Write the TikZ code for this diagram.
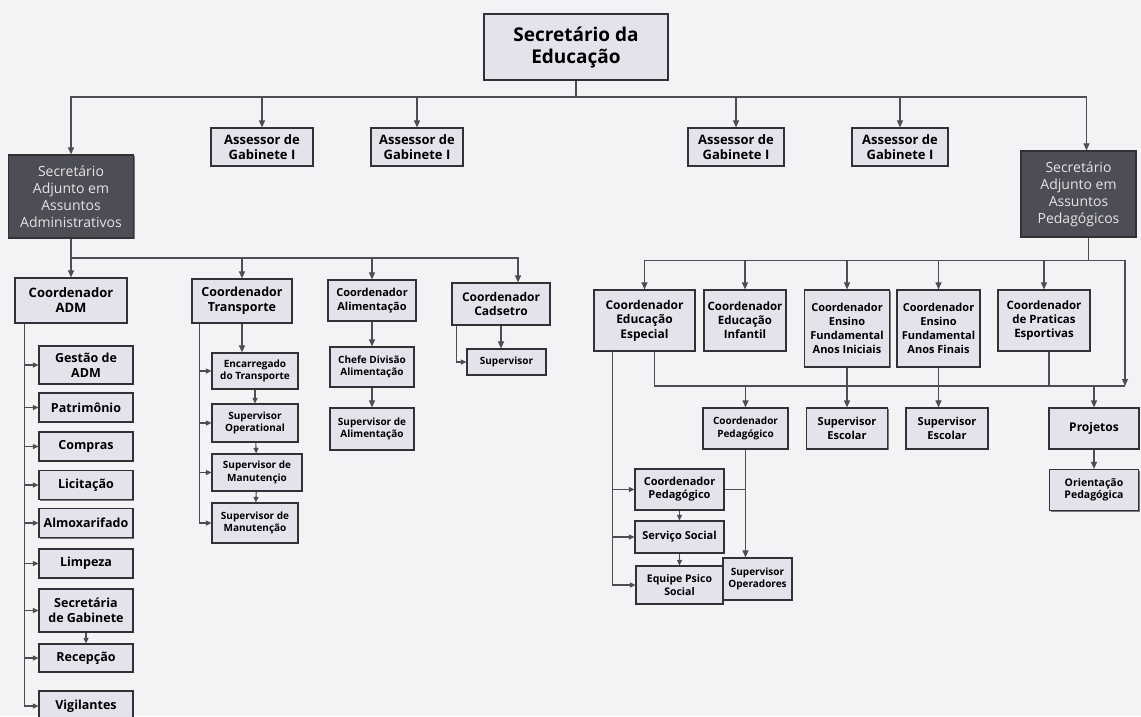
\documentclass[tikz,border=0pt]{standalone}
\usepackage{fontspec}
\setmainfont{Open Sans}
\usetikzlibrary{arrows.meta, shadows}

\definecolor{boxfill}{RGB}{228,227,236}
\definecolor{darkfill}{RGB}{76,77,85}
\definecolor{edgecol}{RGB}{50,50,54}
\definecolor{linecol}{RGB}{78,78,82}
\definecolor{paper}{RGB}{243,243,246}

\begin{document}
\begin{tikzpicture}[
    x=1pt, y=-1pt,
    box/.style={rectangle, draw=edgecol, line width=1.2pt, fill=boxfill, align=center, inner sep=1pt,
        font=\bfseries, drop shadow={shadow xshift=1.2pt, shadow yshift=-1.4pt, opacity=0.5, fill=black}},
    darkbox/.style={box, fill=darkfill, text=white!90!black},
    size/.style 2 args={minimum width=#1, minimum height=#2},
    arrow/.style={-{Triangle[length=7pt, width=6pt]}, draw=linecol, line width=1.1pt},
    sarrow/.style={-{Triangle[length=5.5pt, width=5pt]}, draw=linecol, line width=1.1pt},
    wire/.style={draw=linecol, line width=1.1pt}
]
\useasboundingbox (0,0) rectangle (1141,716);
\fill[paper] (0,0) rectangle (1141,716);
\clip (0,0) rectangle (1141,716);

% top level
\node[box, size={184}{66}, font=\fontsize{19}{22}\selectfont\bfseries] (sec) at (576,47) {Secretário da\\Educação};
\node[box, size={102}{38}, font=\fontsize{13}{15}\selectfont\bfseries] (as1) at (262,147) {Assessor de\\Gabinete I};
\node[box, size={92}{38}, font=\fontsize{13}{15}\selectfont\bfseries] (as2) at (417,147) {Assessor de\\Gabinete I};
\node[box, size={96}{38}, font=\fontsize{13}{15}\selectfont\bfseries] (as3) at (736,147) {Assessor de\\Gabinete I};
\node[box, size={96}{38}, font=\fontsize{13}{15}\selectfont\bfseries] (as4) at (900,147) {Assessor de\\Gabinete I};
\node[darkbox, size={125}{83}, font=\fontsize{14}{17}\selectfont] (sadm) at (71,196.5) {Secretário\\Adjunto em\\Assuntos\\Administrativos};
\node[darkbox, size={115}{86}, font=\fontsize{14}{17}\selectfont] (sped) at (1078.5,194) {Secretário\\Adjunto em\\Assuntos\\Pedagógicos};

\coordinate (hubtop) at (576,97);
\draw[wire] (sec.south) -- (hubtop);
\draw[arrow] (hubtop) -| (sadm.north);
\draw[arrow] (hubtop) -| ([xshift=8pt]sped.north);
\foreach \n in {as1,as2,as3,as4}
    \draw[arrow] (hubtop) -| (\n.north);

% administrative side
\node[box, size={112}{45}, font=\fontsize{13}{15}\selectfont\bfseries] (cadm) at (71,300.5) {Coordenador\\ADM};
\node[box, size={100}{44}, font=\fontsize{12.5}{15}\selectfont\bfseries] (ctra) at (242,301) {Coordenador\\Transporte};
\node[box, size={88}{41}, font=\fontsize{11}{13.5}\selectfont\bfseries] (cali) at (372,300.5) {Coordenador\\Alimentação};
\node[box, size={98}{42}, font=\fontsize{12}{14.5}\selectfont\bfseries] (ccad) at (501,304) {Coordenador\\Cadsetro};

\coordinate (hubadm) at (71,258);
\draw[wire] (sadm.south) -- (hubadm);
\draw[arrow] (hubadm) -- (cadm.north);
\draw[arrow] (hubadm) -| (ctra.north);
\draw[arrow] (hubadm) -| (cali.north);
\draw[arrow] (hubadm) -| ([xshift=17pt]ccad.north);

\begin{scope}[box/.append style={font=\fontsize{12.5}{14.5}\selectfont\bfseries}]
\node[box, size={94}{38}] (adm1) at (86,365) {Gestão de\\ADM};
\node[box, size={94}{29}] (adm2) at (86,407.5) {Patrimônio};
\node[box, size={94}{29}] (adm3) at (86,446.5) {Compras};
\node[box, size={94}{29}] (adm4) at (86,485) {Licitação};
\node[box, size={94}{29}] (adm5) at (86,523) {Almoxarifado};
\node[box, size={94}{29}] (adm6) at (86,563.5) {Limpeza};
\node[box, size={94}{43}] (adm7) at (86,610.5) {Secretária\\de Gabinete};
\node[box, size={94}{28}] (adm8) at (86,658) {Recepção};
\node[box, size={94}{30}] (adm9) at (86,706) {Vigilantes};
\end{scope}
\foreach \i in {1,...,9}
    \draw[sarrow] ([xshift=10pt]cadm.south west) |- (adm\i.west);
\draw[sarrow] (adm7) -- (adm8);

\begin{scope}[box/.append style={font=\fontsize{10}{12.5}\selectfont\bfseries}]
\node[box, size={86}{36}] (tra1) at (255,371) {Encarregado\\do Transporte};
\node[box, size={86}{38}] (tra2) at (255,423) {Supervisor\\Operational};
\node[box, size={90}{37}] (tra3) at (257,472.5) {Supervisor de\\Manutençio};
\node[box, size={86}{40}] (tra4) at (255,523) {Supervisor de\\Manutenção};
\node[box, size={84}{40}] (ali1) at (372,367) {Chefe Divisão\\Alimentação};
\node[box, size={84}{42}] (ali2) at (372,429) {Supervisor de\\Alimentação};
\node[box, size={79}{26}] (sup) at (506.5,362) {Supervisor};
\end{scope}
\draw[arrow] (ctra.south) -- (ctra.south |- tra1.north);
\foreach \i in {1,...,4}
    \draw[sarrow] ([xshift=8pt]ctra.south west) |- (tra\i.west);
\draw[sarrow] (tra1) -- (tra2);
\draw[sarrow] (tra2) -- (tra3);
\draw[sarrow] (tra3) -- (tra4);
\draw[arrow] (cali) -- (ali1);
\draw[arrow] (ali1) -- (ali2);
\draw[arrow] (ccad.south) -- (ccad.south |- sup.north);
\draw[sarrow] ([xshift=5pt]ccad.south west) |- (sup.west);

% pedagogical side
\node[box, size={101}{61}, font=\fontsize{12}{14.5}\selectfont\bfseries] (edu1) at (644.5,320.5) {Coordenador\\Educação\\Especial};
\node[box, size={82}{61}, font=\fontsize{11.5}{14}\selectfont\bfseries] (edu2) at (745,320.5) {Coordenador\\Educação\\Infantil};
\node[box, size={85}{77}, font=\fontsize{11}{14}\selectfont\bfseries] (edu3) at (847,328.5) {Coordenador\\Ensino\\Fundamental\\Anos Iniciais};
\node[box, size={83}{77}, font=\fontsize{11}{14}\selectfont\bfseries] (edu4) at (938.5,328.5) {Coordenador\\Ensino\\Fundamental\\Anos Finais};
\node[box, size={92}{61}, font=\fontsize{11.5}{14}\selectfont\bfseries] (edu5) at (1044,320.5) {Coordenador\\de Praticas\\Esportivas};

\draw[wire] ([xshift=10pt]sped.south) -- ++(0,23) coordinate (hubped);
\foreach \n in {edu1,edu2,edu3,edu4,edu5}
    \draw[arrow] (hubped) -| (\n.north);
\coordinate (pend) at (1125,386);
\draw[arrow] (hubped) -| (pend);
\draw[wire] ([xshift=10pt]edu1.south) |- (pend);
\draw[wire] ([xshift=5pt]edu5.south) -- ([xshift=5pt]edu5.south |- pend);

\node[box, size={85}{41}, font=\fontsize{10}{12.5}\selectfont\bfseries] (ped1) at (745.5,428.5) {Coordenador\\Pedagógico};
\node[box, size={81}{41}, font=\fontsize{11}{13.5}\selectfont\bfseries] (esc1) at (847,428.5) {Supervisor\\Escolar};
\node[box, size={82}{41}, font=\fontsize{11}{13.5}\selectfont\bfseries] (esc2) at (947,428.5) {Supervisor\\Escolar};
\node[box, size={90}{41}, font=\fontsize{12}{14}\selectfont\bfseries] (proj) at (1094,428.5) {Projetos};
\node[box, size={89}{41}, font=\fontsize{10.5}{12.5}\selectfont\bfseries] (ori) at (1094,490) {Orientação\\Pedagógica};

\draw[arrow] (ped1.north |- pend) -- (ped1.north);
\draw[arrow] (proj.north |- pend) -- (proj.north);
\draw[arrow] (edu3) -- (esc1);
\draw[arrow] (edu4.south) -- (edu4.south |- esc2.north);
\draw[arrow] (proj) -- (ori);

\node[box, size={69}{42}, font=\fontsize{10}{12.5}\selectfont\bfseries] (supop) at (757.5,579) {Supervisor\\Operadores};
\node[box, size={89}{41}, font=\fontsize{11}{13}\selectfont\bfseries] (esp1) at (679.5,489.5) {Coordenador\\Pedagógico};
\node[box, size={89}{32}, font=\fontsize{11}{13}\selectfont\bfseries] (esp2) at (679.5,537) {Serviço Social};
\node[box, size={87}{38}, font=\fontsize{10.5}{12.5}\selectfont\bfseries] (esp3) at (679.5,585) {Equipe Psico\\Social};

\foreach \n in {esp1,esp2,esp3}
    \draw[sarrow] ([xshift=19pt]edu1.south west) |- (\n.west);
\draw[sarrow] (esp1) -- (esp2);
\draw[sarrow] (esp2) -- (esp3);
\draw[wire] (esp1.east) -- (esp1.east -| ped1.south);
\draw[arrow] (ped1.south) -- (ped1.south |- supop.north);
\end{tikzpicture}
\end{document}
